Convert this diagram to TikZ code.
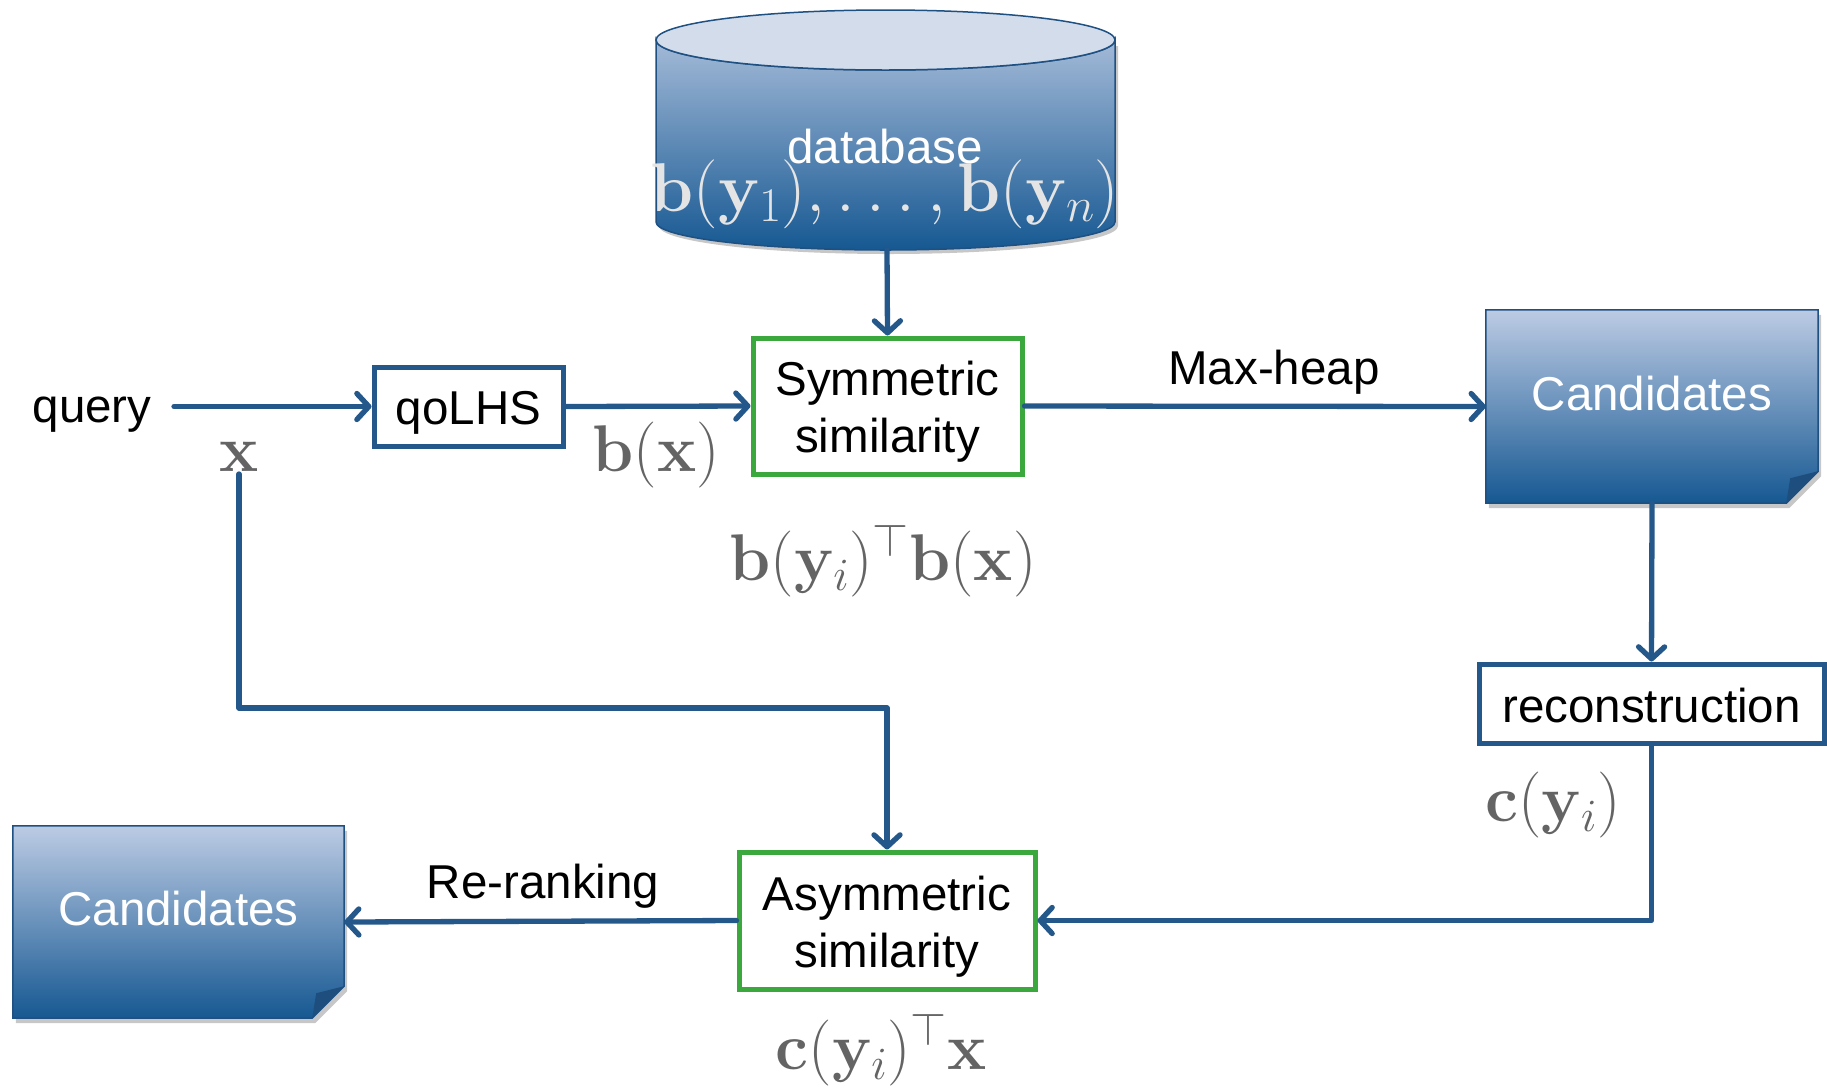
\RequirePackage{fix-cm}
\documentclass[tikz,border=0pt]{standalone}
\usepackage[no-math]{fontspec}
\setmainfont{Liberation Sans}
\usetikzlibrary{arrows.meta,calc}
\definecolor{arrc}{RGB}{37,88,138}
\definecolor{boxgreen}{RGB}{58,168,60}
\definecolor{gtop}{RGB}{188,203,228}
\definecolor{gbot}{RGB}{22,88,146}
\definecolor{cyltop}{RGB}{210,220,235}
\definecolor{bord}{RGB}{30,80,130}
\definecolor{foldc}{RGB}{30,78,125}
\definecolor{mgray}{RGB}{100,100,100}
\definecolor{dblight}{RGB}{228,228,228}
\newcommand\txtsize{\fontsize{47.5}{57}\selectfont}
\newcommand\mthsize{\fontsize{66}{70}\selectfont}
\tikzset{
  arr/.style={draw=arrc, line width=5.3pt, line cap=round, line join=round,
    -{Straight Barb[length=12pt,width=26pt,round]}},
  bluebox/.style={draw=arrc, line width=5pt, inner sep=0pt},
  greenbox/.style={draw=boxgreen, line width=5pt, inner sep=0pt},
  boxtext/.style={font=\txtsize, inner sep=0pt, align=center},
  txt/.style={font=\txtsize, inner sep=0pt},
  mth/.style={font=\mthsize, text=mgray, inner sep=0pt},
  candshape/.style={inner sep=0pt},
}
\newcommand\drawcand[1]{%
  \fill[black,opacity=0.22] ([xshift=3pt,yshift=-5pt]#1.north west) -- ([xshift=3pt,yshift=-5pt]#1.north east) -- ([xshift=3pt,yshift=27pt]#1.south east) -- ([xshift=-29pt,yshift=-5pt]#1.south east) -- ([xshift=3pt,yshift=-5pt]#1.south west) -- cycle;
  \shade[top color=gtop, bottom color=gbot, draw=bord, line width=1.5pt] (#1.north west) -- (#1.north east) -- ([yshift=32pt]#1.south east) -- ([xshift=-32pt]#1.south east) -- (#1.south west) -- cycle;
  \fill[foldc] ([yshift=32pt]#1.south east) -- ([xshift=-32pt]#1.south east) -- ([xshift=-28pt,yshift=25pt]#1.south east) -- cycle;
}
\begin{document}
\begin{tikzpicture}[x=1pt,y=-1pt]
\useasboundingbox[fill=white] (0,0) rectangle (1827,1088);

% database cylinder
\fill[black,opacity=0.22] (659,46) -- (659,226) arc[start angle=180, end angle=0, x radius=229.5, y radius=28] -- (1118,46) -- cycle;
\shade[top color=gtop!85!gbot, bottom color=gbot, draw=bord, line width=1.5pt]
  (656,40) -- (656,222) arc[start angle=180, end angle=0, x radius=229.5, y radius=28]
  -- (1115,40) arc[start angle=0, end angle=180, x radius=229.5, y radius=30] -- cycle;
\filldraw[fill=cyltop, draw=bord, line width=1.5pt] (885.5,40) ellipse [x radius=229.5, y radius=30];
\node[txt, text=white] (dbtext) at (885,147) {database};
\node[font=\fontsize{69}{72}\selectfont, text=dblight, inner sep=0pt] (dbmath) at (885,194) {$\mathbf{b}(\mathbf{y}_1),\ldots,\mathbf{b}(\mathbf{y}_n)$};
\coordinate (dbbot) at (887,250);

% nodes
\node[txt] (query) at (92,415) {query};
\node[bluebox, minimum width=189pt, minimum height=79pt] (qo) at (468.5,406.5) {};
\node[boxtext] (qot) at ([yshift=-6pt]qo.center) {qoLHS};
\node[greenbox, minimum width=269pt, minimum height=136pt] (sym) at (887.5,406) {};
\node[boxtext] (symt) at ([yshift=-6pt]sym.center) {Symmetric\\similarity};
\node[candshape, minimum width=332pt, minimum height=193pt] (candR) at (1652,406.5) {};
\drawcand{candR}
\node[txt, text=white] (candRt) at ([yshift=13pt]candR.center) {Candidates};
\node[bluebox, minimum width=345pt, minimum height=79pt] (rec) at (1651.5,703.5) {};
\node[boxtext] (rect) at ([yshift=-2pt]rec.center) {reconstruction};
\node[greenbox, minimum width=296pt, minimum height=137pt] (asym) at (887,920.5) {};
\node[boxtext] (asymt) at ([yshift=-6pt]asym.center) {Asymmetric\\similarity};
\node[candshape, minimum width=331pt, minimum height=192pt] (candL) at (178.5,922) {};
\drawcand{candL}
\node[txt, text=white] (candLt) at ([yshift=13pt]candL.center) {Candidates};

% labels
\node[mth] (xl) at (239,457) {$\mathbf{x}$};
\node[mth] (bx) at (656,455) {$\mathbf{b}(\mathbf{x})$};
\node[mth] (bsim) at (883,561) {$\mathbf{b}(\mathbf{y}_i)^\top\mathbf{b}(\mathbf{x})$};
\node[txt] (mh) at (1274,372) {Max-heap};
\node[mth] (cy) at (1553,805) {$\mathbf{c}(\mathbf{y}_i)$};
\node[txt] (rr) at (543,886) {Re-ranking};
\node[mth] (csim) at (881,1050) {$\mathbf{c}(\mathbf{y}_i)^\top\mathbf{x}$};

% connectors
\coordinate (qs) at (174,407);
\draw[arr] (qs |- qo.west) -- (qo.west);
\draw[arr] (qo.east) -- (sym.west);
\draw[arr] (dbbot) -- (sym.north);
\draw[arr] (sym.east) -- (candR.west);
\draw[arr] (candR.south) -- (rec.north);
\draw[arr] (rec.south) |- (asym.east);
\coordinate (xs) at (239,474);
\coordinate (xturn) at (239,708);
\draw[arr] (xs) -- (xturn) -| (asym.north);
\draw[arr] (asym.west) -- (candL.east);
\end{tikzpicture}
\end{document}
